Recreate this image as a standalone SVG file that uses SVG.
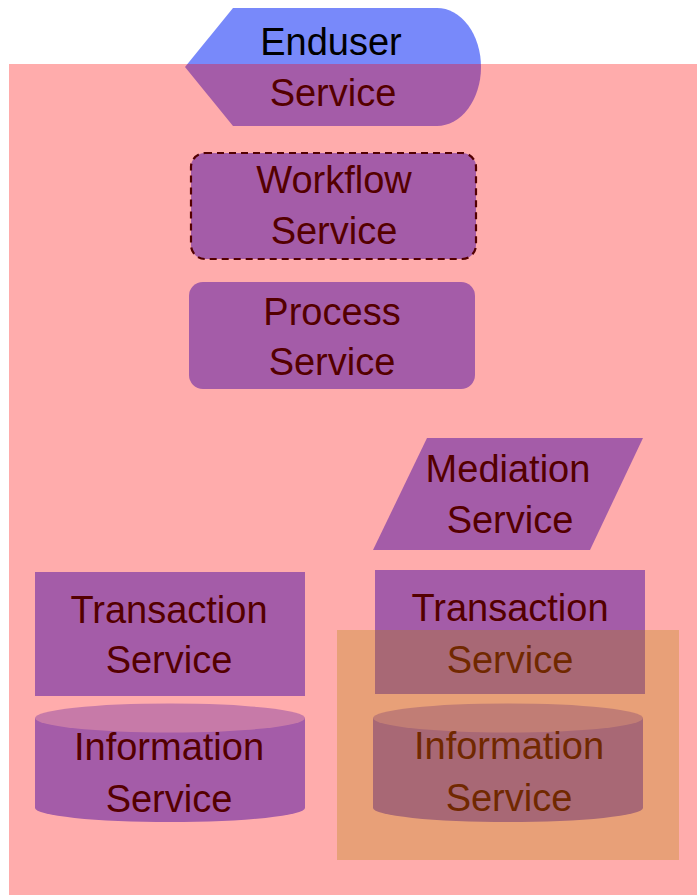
<svg xmlns="http://www.w3.org/2000/svg" width="697" height="895" viewBox="0 0 697 895">
<style>
.s{fill:#7889fa}
.cap{fill:#adb5f9}
.t{font-family:"Liberation Sans",Arial,sans-serif;font-size:38px;fill:#000;text-anchor:middle}
</style>
<rect width="697" height="895" fill="#fff"/>
<g id="enduser">
<path class="s" d="M233,8 L437,8 A44,59 0 0 1 437,126 L233,126 L185,67 Z"/>
<text class="t" x="331" y="55">Enduser</text>
<text class="t" x="333" y="106">Service</text>
</g>
<g id="workflow">
<rect class="s" x="191" y="153" width="285" height="106" rx="14" stroke="#000" stroke-width="2.2" stroke-dasharray="7,5"/>
<text class="t" x="334" y="193">Workflow</text>
<text class="t" x="334" y="244">Service</text>
</g>
<g id="process">
<rect class="s" x="189" y="282" width="286" height="107" rx="14"/>
<text class="t" x="332" y="325">Process</text>
<text class="t" x="332" y="375">Service</text>
</g>
<g id="mediation">
<path class="s" d="M427,438 L643,438 L590,550 L373,550 Z"/>
<text class="t" x="508" y="482">Mediation</text>
<text class="t" x="510" y="533">Service</text>
</g>
<g id="transaction-left">
<rect class="s" x="35" y="572" width="270" height="124"/>
<text class="t" x="169" y="623">Transaction</text>
<text class="t" x="169" y="673">Service</text>
</g>
<g id="information-left">
<path class="s" d="M35,718 L35,808 A135,14 0 0 0 305,808 L305,718 Z"/>
<ellipse class="cap" cx="170" cy="718" rx="135" ry="14.5"/>
<text class="t" x="169" y="760">Information</text>
<text class="t" x="169" y="812">Service</text>
</g>
<g id="transaction-right">
<rect class="s" x="375" y="570" width="270" height="124"/>
<text class="t" x="510" y="621">Transaction</text>
<text class="t" x="510" y="673">Service</text>
</g>
<g id="information-right">
<path class="s" d="M373,718 L373,808 A135,14 0 0 0 643,808 L643,718 Z"/>
<ellipse class="cap" cx="508" cy="718" rx="135" ry="14.5"/>
<text class="t" x="509" y="759">Information</text>
<text class="t" x="509" y="811">Service</text>
</g>
<g id="layer-pink">
<rect x="9" y="64" width="688" height="831" fill="#ff0000" fill-opacity="0.325"/>
</g>
<g id="layer-orange">
<rect x="337" y="630" width="342" height="230" fill="#b48600" fill-opacity="0.3"/>
</g>
<g id="connectors"/>
</svg>
